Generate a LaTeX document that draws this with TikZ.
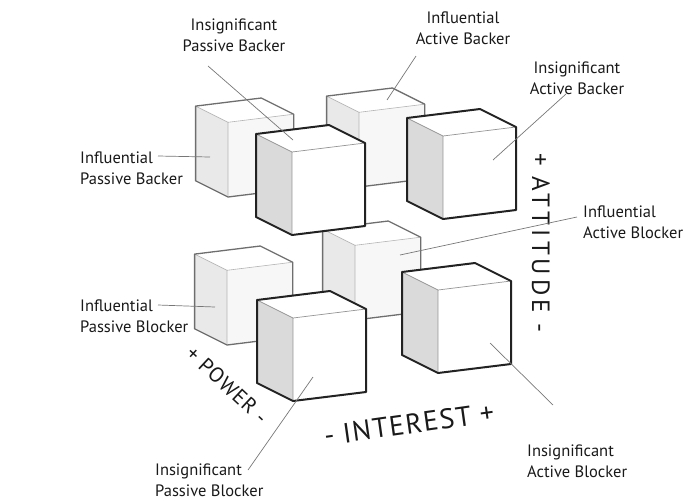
\documentclass[tikz,border=0pt]{standalone}
\usepackage{fontspec}
\setmainfont{PT Sans}
\newfontfamily\axisfont[LetterSpace=5]{PT Sans}
\newfontfamily\attfont[LetterSpace=16]{PT Sans}
\usetikzlibrary{positioning}

\definecolor{edgedark}{HTML}{222222}
\definecolor{edgeinner}{HTML}{959595}
\definecolor{edgeback}{HTML}{6E6E6E}
\definecolor{edgebackin}{HTML}{B4B4B4}
\definecolor{sidedark}{HTML}{DADADA}
\definecolor{sidelight}{HTML}{E9E9E9}
\definecolor{facelight}{HTML}{F7F7F7}
\definecolor{leadergray}{HTML}{777777}

\tikzset{
  frontside/.style={fill=sidedark},
  frontface/.style={fill=white},
  fronttop/.style={fill=white},
  frontinner/.style={draw=edgeinner, line width=0.7pt},
  frontoutline/.style={draw=edgedark, line width=2pt, line join=round},
  backside/.style={fill=sidelight},
  backface/.style={fill=facelight},
  backtop/.style={fill=white},
  backinner/.style={draw=edgebackin, line width=0.6pt},
  backoutline/.style={draw=edgeback, line width=1.3pt, line join=round},
  leader/.style={draw=leadergray, line width=0.7pt},
  label/.style={font=\fontsize{16.5}{21}\selectfont, text=black!90, inner sep=0pt},
  axis/.style={text=black!90, inner sep=0pt}
}

% #1 front/back, (#2,#3) front bottom corner, #4 size
\newcommand{\drawcube}[4]{%
  \begin{scope}[shift={(#2,#3)}, scale=#4]
    \fill[#1side] (0,0) -- (0,-83) -- (-36,-101) -- (-36,-18) -- cycle;
    \fill[#1face] (0,0) -- (73,-9) -- (73,-92) -- (0,-83) -- cycle;
    \fill[#1top] (0,-83) -- (73,-92) -- (37,-110) -- (-36,-101) -- cycle;
    \draw[#1inner] (-36,-101) -- (0,-83) -- (73,-92) (0,-83) -- (0,0);
    \draw[#1outline] (-36,-18) -- (0,0) -- (73,-9) -- (73,-92) -- (37,-110) -- (-36,-101) -- cycle;
  \end{scope}}

\begin{document}
\begin{tikzpicture}[x=1pt, y=-1pt]
	\useasboundingbox (0,0) rectangle (690,501);
	% back row
	\drawcube{back}{228}{197}{0.9}
	\drawcube{back}{359}{187}{0.9}
	\drawcube{back}{227}{345}{0.9}
	\drawcube{back}{355}{320}{0.9}
	% front row
	\drawcube{front}{292}{235}{1}
	\drawcube{front}{443}{219}{1}
	\drawcube{front}{293}{401}{1}
	\drawcube{front}{438}{373}{1}

	% labels
	\node[label, align=center] (ipbk) at (234,35) {Insignificant\\Passive Backer};
	\node[label, align=center] (fabk) at (463,28) {Influential\\Active Backer};
	\node[label, align=center] (iabk) at (577,78) {Insignificant\\Active Backer};
	\node[label, align=left, anchor=west] (fpbk) at (80,168) {Influential\\Passive Backer};
	\node[label, align=left, anchor=west] (fabl) at (583,222) {Influential\\Active Blocker};
	\node[label, align=left, anchor=west] (fpbl) at (80,316) {Influential\\Passive Blocker};
	\node[label, align=left, anchor=west] (iabl) at (527,461) {Insignificant\\Active Blocker};
	\node[label, align=left, anchor=west] (ipbl) at (155,480) {Insignificant\\Passive Blocker};

	% axes
	\node[axis, rotate=-90, font=\attfont\fontsize{25}{25}\selectfont] (att) at (541,243) {+ ATTITUDE -};
	\node[axis, rotate=8, font=\axisfont\fontsize{28}{28}\selectfont] (int) at (409,424) {- INTEREST +};
	\node[axis, rotate=-43, font=\axisfont\fontsize{21}{21}\selectfont] (pow) at (227,385) {+ POWER -};

	% leader ends
	\coordinate (ipbk-a) at (208,66);   \coordinate (ipbk-b) at (293,140);
	\coordinate (fabk-a) at (416,56);   \coordinate (fabk-b) at (387,100);
	\coordinate (iabk-a) at (566,94);   \coordinate (iabk-b) at (493,160);
	\coordinate (fpbk-a) at (158,156);  \coordinate (fpbk-b) at (210,157);
	\coordinate (fpbl-a) at (158,305);  \coordinate (fpbl-b) at (215,307);
	\coordinate (fabl-a) at (577,217);  \coordinate (fabl-b) at (400,255);
	\coordinate (iabl-a) at (490,343);  \coordinate (iabl-b) at (553,405);
	\coordinate (ipbl-a) at (313,377);  \coordinate (ipbl-b) at (248,470);
	\foreach \n in {ipbk,fabk,iabk,fpbk,fpbl,fabl,iabl,ipbl}
		\draw[leader] (\n-a) -- (\n-b);
\end{tikzpicture}
\end{document}
